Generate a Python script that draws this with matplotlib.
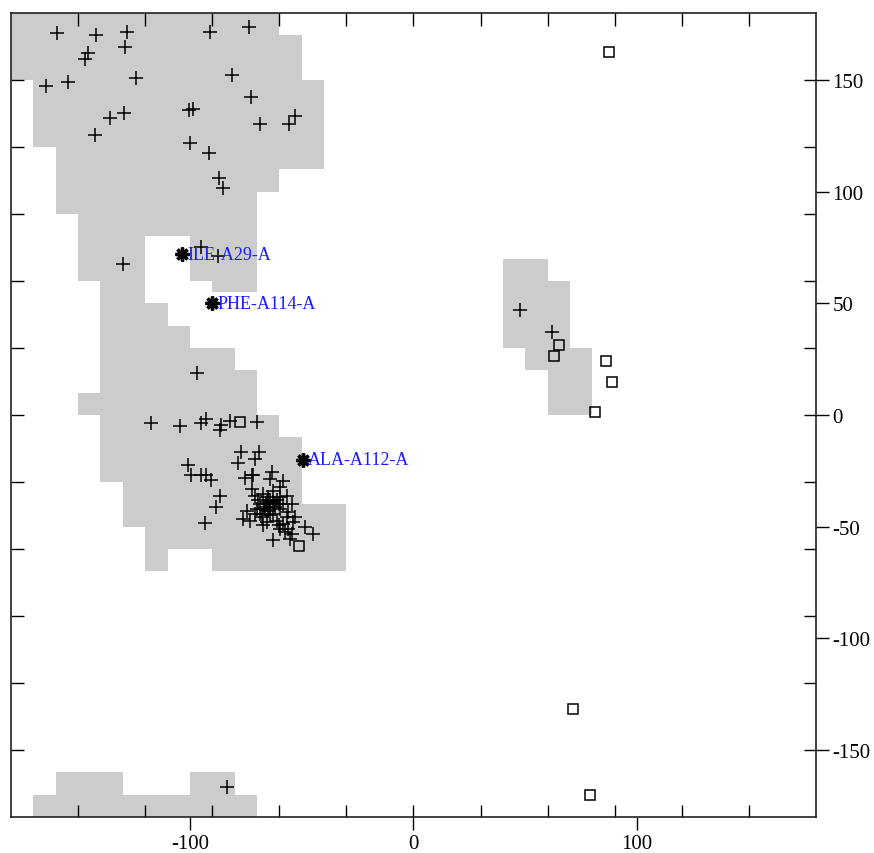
"""Ramachandran plot with allowed-region grid and labelled outliers."""

import matplotlib
matplotlib.use('Agg')
import matplotlib.pyplot as plt
import numpy as np


# Allowed region: (phi column start, psi low, psi high), 10 degree columns
REGION = [
    (-180, 150, 180),
    (-170, 120, 180), (-170, -180, -170),
    (-160, 90, 180), (-160, -180, -160),
    (-150, 60, 180), (-150, 0, 10), (-150, -180, -160),
    (-140, -30, 180), (-140, -180, -160),
    (-130, -50, 180), (-130, -180, -170),
    (-120, 80, 180), (-120, -70, 50), (-120, -180, -170),
    (-110, 80, 180), (-110, -60, 40), (-110, -180, -170),
    (-100, 60, 180), (-100, -60, 30), (-100, -180, -160),
    (-90, 55, 180), (-90, -70, 30), (-90, -180, -160),
    (-80, 55, 180), (-80, -70, 20), (-80, -180, -170),
    (-70, 100, 180), (-70, -70, 0),
    (-60, 110, 170), (-60, -70, -10),
    (-50, 110, 150), (-50, -70, -40),
    (-40, -70, -40),
    (40, 30, 70),
    (50, 20, 70),
    (60, 0, 60),
    (70, 0, 30),
]

# general residues (plus markers)
general_phi = [
    -159.6, -142, -128, -91.1, -73.4, -145.4, -146.8, -129.2, -81.3, -164.2,
    -154.5, -124.1, -72.8, -100.5, -98.7, -135.6, -129.5, -52.9, -55.5, -68.6,
    -142.3, -99.8, -91.3, -87, -85.3, -95.2, -87.3, -130,
    -96.7, -117.5, -104.3, -94.9, -92.8, -86.1, -86.5, -82.1, -69.9, -77.3,
    -78.5, -69.2, -70.9, -101, -99.6, -94.9, -92.8, -90.6, -86.5, -88.5, -93.2,
    -75.4, -72.4, -71.6, -63.4, -64.2, -58.5, -72.4, -70.9, -65.7, -68.6,
    -59.7, -56.7, -54.5, -74.6, -73.1, -70.1, -67.9, -64.2, -61.2, -58.2,
    -56, -54.5, -55.2, -62.7, -48.5, -45.1, -76.1, -65.7, -67.2, -59.7,
    -57.5, -53, -53.8, -56, -56.7, -69.4, -67.2, -62.7, -59.7, -61.9,
    -64.2, -66.4, -62.7, -59.7, -58.2, -61.2, -64.9, -68.6, -70.9, -60.3,
    -66, -63, -65, -62, -67, -60, -64,
    47.6, 61.9,
    -83.5,
]
general_psi = [
    171.2, 170, 171.6, 171.4, 173.8, 162.2, 159.2, 164.7, 152.1, 147.3,
    149.2, 150.7, 142.4, 136.7, 137.2, 133.1, 135.4, 134, 130.3, 130.1,
    125.2, 121.6, 117.3, 106.3, 101.8, 75.4, 71, 67.5,
    18.6, -3.7, -4.8, -3.6, -1.8, -4.3, -6.6, -2.8, -3.3, -16.7,
    -21.5, -16.4, -19.7, -22.2, -27.1, -27.1, -27.1, -29.2, -36.1, -41, -48.3,
    -28.2, -27.1, -27.1, -25.6, -28.6, -29.7, -33.1, -36.5, -39, -39.8,
    -36.8, -36.1, -39.8, -42.8, -47.3, -42, -45.8, -45, -47.3, -48.7,
    -51, -53.2, -55.5, -56.2, -50.2, -53.5, -46.5, -48, -49.5, -51,
    -52.5, -45.8, -48, -43.5, -45.8, -38.3, -35.3, -33.9, -32.3, -41.3,
    -41.3, -42, -44.3, -42, -39.8, -38.3, -36.8, -44.3, -44.3, -49.5,
    -40, -39, -43, -40, -41, -40, -38,
    47.1, 37.3,
    -166.8,
]

# glycine residues (open squares)
gly_phi = [-77.6, -51.3, 87.6, 65.1, 63, 85.9, 88.9, 81.2, 71.5, 78.9]
gly_psi = [-3, -58.6, 162.7, 31.4, 26.2, 24, 14.9, 1.2, -131.5, -170.3]

# outliers
out_names = ['ILE-A29-A', 'PHE-A114-A', 'ALA-A112-A']
out_phi = [-103.7, -90.3, -49.6]
out_psi = [72, 50.1, -20.1]

plt.rcParams['font.family'] = ['Liberation Serif', 'DejaVu Serif']
plt.rcParams['axes.unicode_minus'] = False

fig = plt.figure(figsize=(8.74, 8.54), dpi=100)
ax = fig.add_axes([0.0126, 0.0422, 0.921, 0.9415])

# allowed region
for x0, y0, y1 in REGION:
    ax.bar(x0, y1 - y0, width=10, bottom=y0, align='edge',
           color='#cccccc', linewidth=0, zorder=1)

ax.plot(general_phi, general_psi, linestyle='none', marker='+',
        markersize=9.5, markeredgewidth=1.1, color='black', zorder=3)
ax.plot(gly_phi, gly_psi, linestyle='none', marker='s', markersize=6.5,
        markerfacecolor='none', markeredgewidth=1.1, color='black', zorder=3)
ax.plot(out_phi, out_psi, linestyle='none', marker=(8, 2, 0),
        markersize=10, markeredgewidth=2.4, color='black', zorder=4)
for name, x, y in zip(out_names, out_phi, out_psi):
    ax.annotate(name, (x, y), xytext=(4, 0), textcoords='offset points',
                va='center', ha='left', color='#1a1aff', fontsize=13,
                zorder=5)

ax.set_xlim(-180, 180)
ax.set_ylim(-180, 180)

# ticks: labelled outward majors, inward minors every 30 degrees
ax.set_xticks([-100, 0, 100])
ax.set_xticklabels(['-100', '0', '100'])
ax.set_xticks(np.arange(-150, 180, 30), minor=True)
ax.set_yticks([-150, -100, -50, 0, 50, 100, 150])
ax.set_yticklabels(['-150', '-100', '-50', '0', '50', '100', '150'])
ax.set_yticks(np.arange(-150, 180, 30), minor=True)
ax.xaxis.remove_overlapping_locs = False
ax.yaxis.remove_overlapping_locs = False

ax.tick_params(axis='x', which='major', direction='out', length=9,
               width=1, bottom=True, top=False, labelsize=15, pad=3)
ax.tick_params(axis='x', which='minor', direction='in', length=9,
               width=1, bottom=True, top=True)
ax.tick_params(axis='y', which='major', direction='out', length=9,
               width=1, left=False, right=True, labelleft=False,
               labelright=True, labelsize=15, pad=3)
ax.tick_params(axis='y', which='minor', direction='in', length=9,
               width=1, left=True, right=True)

for sp in ax.spines.values():
    sp.set_linewidth(1.2)
    sp.set_color('#222222')

fig.savefig('out.png', dpi=100)
